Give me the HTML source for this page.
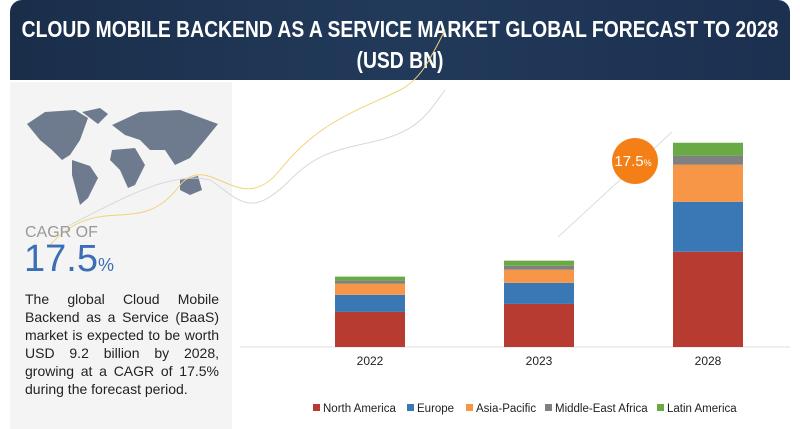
<!DOCTYPE html>
<html><head><meta charset="utf-8"><style>
body{margin:0;width:800px;height:429px;background:#fff;font-family:"Liberation Sans",sans-serif;overflow:hidden;position:relative}
#hdr{position:absolute;left:10px;top:0;width:780px;height:80px;background:linear-gradient(90deg,#1a2e4a,#223a5a 50%,#1c3050);border-radius:12px 12px 0 0;color:#fff;font-weight:bold;font-size:23px;line-height:30px;overflow:hidden}
#hdr span{position:absolute;left:50%;white-space:nowrap;transform:translateX(-50%) scaleX(0.84)}
#left{position:absolute;left:10px;top:82px;width:222px;height:347px;background:#f4f4f4}
.t{position:absolute}
#desc{left:25px;top:290px;width:194px;font-size:14px;line-height:18px;color:#222;text-align:justify}
</style></head><body>
<div id="hdr"><span style="top:14px">CLOUD MOBILE BACKEND AS A SERVICE MARKET GLOBAL FORECAST TO 2028</span><span style="top:45px">(USD BN)</span></div>
<div id="left"></div>
<svg class="t" style="left:0;top:0" width="800" height="429">
 <g fill="#6e7a8e">
  <path d="M27,124 L45,112 L75,110 L88,118 L80,140 L70,155 L62,160 L52,150 L40,140 Z"/>
  <path d="M82,112 L100,108 L108,114 L98,124 Z"/>
  <path d="M72,160 L90,166 L98,178 L88,198 L80,205 L76,190 L72,175 Z"/>
  <path d="M112,125 L140,112 L180,110 L218,124 L205,140 L190,158 L175,165 L165,150 L150,150 L140,140 L125,135 Z"/>
  <path d="M112,150 L135,148 L145,165 L135,185 L128,188 L120,170 L110,160 Z"/>
  <path d="M180,180 L198,176 L202,190 L190,195 L180,190 Z"/>
 </g>
 <path d="M50,245 C100,190 140,240 180,185 C210,150 240,220 280,170 C320,120 360,110 400,90 C420,80 430,60 445,30" fill="none" stroke="#f2d27a" stroke-width="1"/>
 <path d="M60,230 C120,200 170,170 210,180 C240,200 250,220 290,180 C320,150 340,150 380,140 C420,130 430,110 445,90" fill="none" stroke="#d8d8d8" stroke-width="1"/>
 <line x1="558" y1="237" x2="672" y2="132" stroke="#ddd" stroke-width="1"/>
 <line x1="240" y1="347" x2="790" y2="347" stroke="#ddd" stroke-width="1"/>
 <g id="bars"></g>
 <g id="xlabels" font-size="12" fill="#222" text-anchor="middle"></g>
 <circle cx="635" cy="161" r="23" fill="#f57f17"/>
 <text x="633" y="166" fill="#fff" font-size="15" text-anchor="middle">17.5<tspan font-size="9">%</tspan></text>
 <g id="legend" font-size="11.5" fill="#222"></g>
</svg>
<div class="t" style="left:25px;top:224px;font-size:16px;color:#999">CAGR OF</div>
<div class="t" style="left:24px;top:238px;font-size:38px;color:#3a6fb5">17.5<span style="font-size:18px">%</span></div>
<div class="t" id="desc">The global Cloud Mobile Backend as a Service (BaaS) market is expected to be worth USD 9.2 billion by 2028, growing at a CAGR of 17.5% during the forecast period.</div>
<script>
const years=["2022","2023","2028"];
const seriesNames=["North America","Europe","Asia-Pacific","Middle-East Africa","Latin America"];
const northAmerica=[1.58,1.94,4.29];
const europe=[0.77,0.95,2.25];
const asiaPacific=[0.50,0.59,1.67];
const middleEastAfrica=[0.14,0.18,0.41];
const latinAmerica=[0.18,0.23,0.58];
const colors=["#b83b32","#3a78b5","#f79646","#808080","#6aaa44"];
const series=[northAmerica,europe,asiaPacific,middleEastAfrica,latinAmerica];
const base=347,scale=22.2,barW=70;
const y=v=>base-v*scale;
const xc=i=>[370,539,708][i];
const NS="http://www.w3.org/2000/svg";
const bg=document.getElementById('bars');
years.forEach((yr,i)=>{
  let cum=0;
  series.forEach((s,k)=>{
    const r=document.createElementNS(NS,'rect');
    r.setAttribute('x',xc(i)-barW/2);r.setAttribute('width',barW);
    r.setAttribute('y',y(cum+s[i]));r.setAttribute('height',s[i]*scale);
    r.setAttribute('fill',colors[k]);
    
    
    bg.appendChild(r);cum+=s[i];
  });
  const t=document.createElementNS(NS,'text');
  t.setAttribute('x',xc(i));t.setAttribute('y',365);t.textContent=yr;
  
  
  document.getElementById('xlabels').appendChild(t);
});
const lx=[313,407,466,545,657];
const lg=document.getElementById('legend');
seriesNames.forEach((n,k)=>{
  const g=document.createElementNS(NS,'g');
  
  
  g.innerHTML='<rect x="'+lx[k]+'" y="404" width="7" height="7" fill="'+colors[k]+'"/><text x="'+(lx[k]+10)+'" y="412">'+n+'</text>';
  lg.appendChild(g);
});
</script>
</body></html>
